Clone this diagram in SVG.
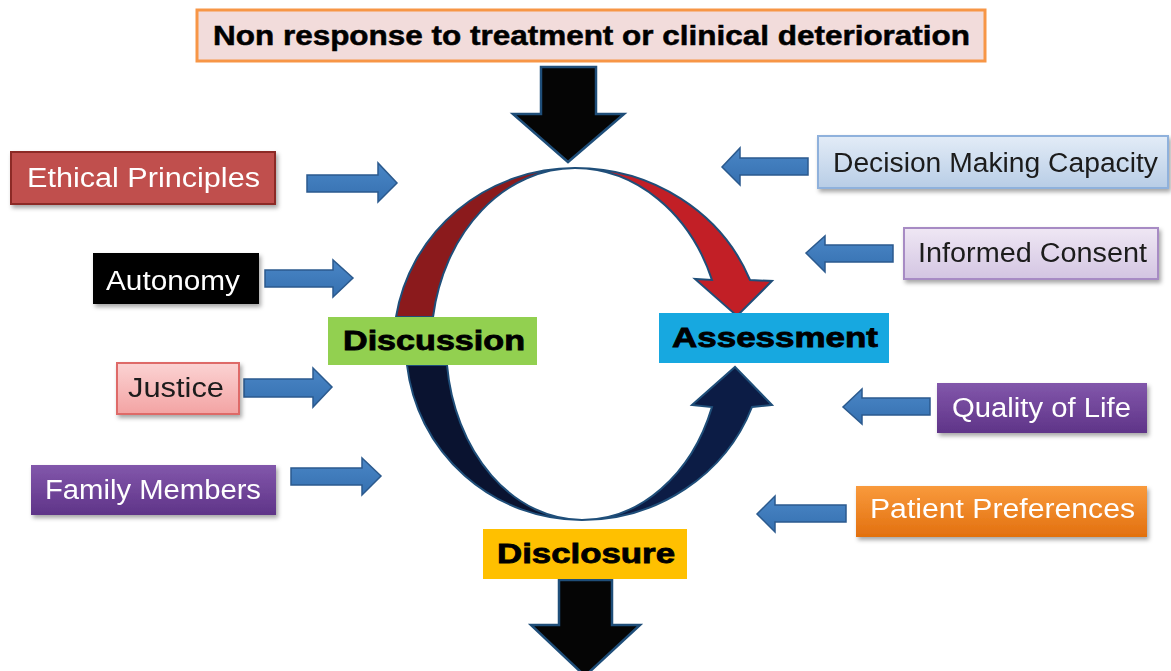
<svg xmlns="http://www.w3.org/2000/svg" width="1171" height="671" viewBox="0 0 1171 671">
<defs>
  <filter id="sh" x="-10%" y="-20%" width="125%" height="150%">
    <feDropShadow dx="2" dy="3" stdDeviation="2" flood-color="#000" flood-opacity="0.35"/>
  </filter>
  <linearGradient id="gPurple" x1="0" y1="0" x2="0" y2="1"><stop offset="0" stop-color="#8257ab"/><stop offset="1" stop-color="#5f3488"/></linearGradient>
  <linearGradient id="gOrange" x1="0" y1="0" x2="0" y2="1"><stop offset="0" stop-color="#f99a3c"/><stop offset="1" stop-color="#e2700f"/></linearGradient>
  <linearGradient id="gPink" x1="0" y1="0" x2="0" y2="1"><stop offset="0" stop-color="#fbd3d3"/><stop offset="1" stop-color="#f3a3a3"/></linearGradient>
  <linearGradient id="gLBlue" x1="0" y1="0" x2="0" y2="1"><stop offset="0" stop-color="#e3ecf7"/><stop offset="1" stop-color="#b8cde6"/></linearGradient>
  <linearGradient id="gLav" x1="0" y1="0" x2="0" y2="1"><stop offset="0" stop-color="#efe7f4"/><stop offset="1" stop-color="#d3c5e2"/></linearGradient>
  <linearGradient id="gArrow" x1="0" y1="0" x2="0" y2="1"><stop offset="0" stop-color="#4a86c6"/><stop offset="1" stop-color="#3570b0"/></linearGradient>
</defs>
<style>
  .lbl { font-family: "Liberation Sans", Arial, sans-serif; font-size: 27px; }
  .wt { fill: #ffffff; }
  .dk { fill: #1a1a1a; }
  .hv { font-family: "Liberation Sans", Arial, sans-serif; font-weight: bold; font-size: 27px; fill: #000; stroke: #000; stroke-width: 0.8; }
  .barrow { fill: url(#gArrow); stroke: #2b5a8e; stroke-width: 1.5; }
  .karrow { fill: #050505; stroke: #1f4e79; stroke-width: 2.5; stroke-linejoin: miter; }
  .arc { stroke: #1f4e79; stroke-width: 2; stroke-linejoin: miter; }
</style>

<g id="connectors">
  <!-- black arrows -->
  <polygon class="karrow" points="541,67 596,67 596,114 624,114 568,162 513,114 541,114"/>
  <polygon class="karrow" points="559,580 612,580 612,625 640,625 585,676 531,625 559,625"/>
  <!-- circular arrows -->
  <path class="arc" fill="#8b1a1c" d="M 396 317 A 181 177 0 0 1 575 168 A 144 177 0 0 0 433 317 Z"/>
  <path class="arc" fill="#c21f26" d="M 575 168 A 188 177 0 0 1 750 280 L 772 281 L 737 316 L 695 279 L 712 280 A 148 177 0 0 0 575 168 Z"/>
  <path class="arc" fill="#0a1330" d="M 407 365 A 176 175 0 0 0 582 520 A 136 175 0 0 1 447 365 Z"/>
  <path class="arc" fill="#0c1c45" d="M 582 520 A 182 175 0 0 0 752 407 L 772 405 L 735 367 L 692 405 L 712 407 A 139 175 0 0 1 582 520 Z"/>
  <!-- blue input arrows -->
  <polygon class="barrow" points="307,175 378,175 378,163 397,183 378,202 378,192 307,192"/>
  <polygon class="barrow" points="265,270 333,270 333,260 353,278 333,297 333,287 265,287"/>
  <polygon class="barrow" points="244,379 313,379 313,368 332,387 313,407 313,397 244,397"/>
  <polygon class="barrow" points="291,468 362,468 362,458 381,476 362,495 362,485 291,485"/>
  <polygon class="barrow" points="808,158 740,158 740,148 722,167 740,185 740,175 808,175"/>
  <polygon class="barrow" points="893,245 825,245 825,236 806,253 825,272 825,262 893,262"/>
  <polygon class="barrow" points="930,398 862,398 862,389 843,407 862,424 862,415 930,415"/>
  <polygon class="barrow" points="846,505 775,505 775,496 757,514 775,532 775,522 846,522"/>
</g>

<g id="top">
  <rect x="197" y="10" width="788" height="51" fill="#f2dcdb" stroke="#f79646" stroke-width="3"/>
  <text x="213" y="45" font-family="Liberation Sans, Arial, sans-serif" font-weight="bold" font-size="28" fill="#000" stroke="#000" stroke-width="0.5" textLength="757" lengthAdjust="spacingAndGlyphs">Non response to treatment or clinical deterioration</text>
</g>

<g id="discussion">
  <rect x="328" y="317" width="209" height="48" fill="#92d050"/>
  <text class="hv" x="343" y="350" textLength="182" lengthAdjust="spacingAndGlyphs">Discussion</text>
</g>
<g id="assessment">
  <rect x="659" y="313" width="230" height="50" fill="#17a8e0"/>
  <text class="hv" x="672" y="347" textLength="206" lengthAdjust="spacingAndGlyphs">Assessment</text>
</g>
<g id="disclosure">
  <rect x="483" y="529" width="204" height="50" fill="#ffc000"/>
  <text class="hv" x="497" y="563" textLength="178" lengthAdjust="spacingAndGlyphs">Disclosure</text>
</g>

<g id="ethical" filter="url(#sh)">
  <rect x="11" y="152" width="264" height="52" fill="#c0504d" stroke="#8c2b28" stroke-width="2"/>
  <text class="lbl wt" x="27" y="187" textLength="233" lengthAdjust="spacingAndGlyphs">Ethical Principles</text>
</g>
<g id="autonomy" filter="url(#sh)">
  <rect x="93" y="253" width="166" height="51" fill="#000000"/>
  <text class="lbl wt" x="106" y="290" textLength="134" lengthAdjust="spacingAndGlyphs">Autonomy</text>
</g>
<g id="justice" filter="url(#sh)">
  <rect x="117" y="363" width="122" height="51" fill="url(#gPink)" stroke="#de6b68" stroke-width="2"/>
  <text class="lbl dk" x="128" y="397" textLength="96" lengthAdjust="spacingAndGlyphs">Justice</text>
</g>
<g id="family" filter="url(#sh)">
  <rect x="31" y="465" width="245" height="50" fill="url(#gPurple)"/>
  <text class="lbl wt" x="45" y="499" textLength="216" lengthAdjust="spacingAndGlyphs">Family Members</text>
</g>

<g id="decision" filter="url(#sh)">
  <rect x="818" y="136" width="350" height="52" fill="url(#gLBlue)" stroke="#8fb1dc" stroke-width="2"/>
  <text class="lbl dk" x="833" y="172" font-size="26" textLength="325" lengthAdjust="spacingAndGlyphs">Decision Making Capacity</text>
</g>
<g id="consent" filter="url(#sh)">
  <rect x="904" y="228" width="254" height="51" fill="url(#gLav)" stroke="#a78bc4" stroke-width="2"/>
  <text class="lbl dk" x="918" y="262" font-size="26" textLength="229" lengthAdjust="spacingAndGlyphs">Informed Consent</text>
</g>
<g id="quality" filter="url(#sh)">
  <rect x="937" y="383" width="210" height="50" fill="url(#gPurple)"/>
  <text class="lbl wt" x="952" y="417" textLength="179" lengthAdjust="spacingAndGlyphs">Quality of Life</text>
</g>
<g id="preferences" filter="url(#sh)">
  <rect x="856" y="486" width="291" height="51" fill="url(#gOrange)"/>
  <text class="lbl wt" x="870" y="518" textLength="265" lengthAdjust="spacingAndGlyphs">Patient Preferences</text>
</g>
</svg>
